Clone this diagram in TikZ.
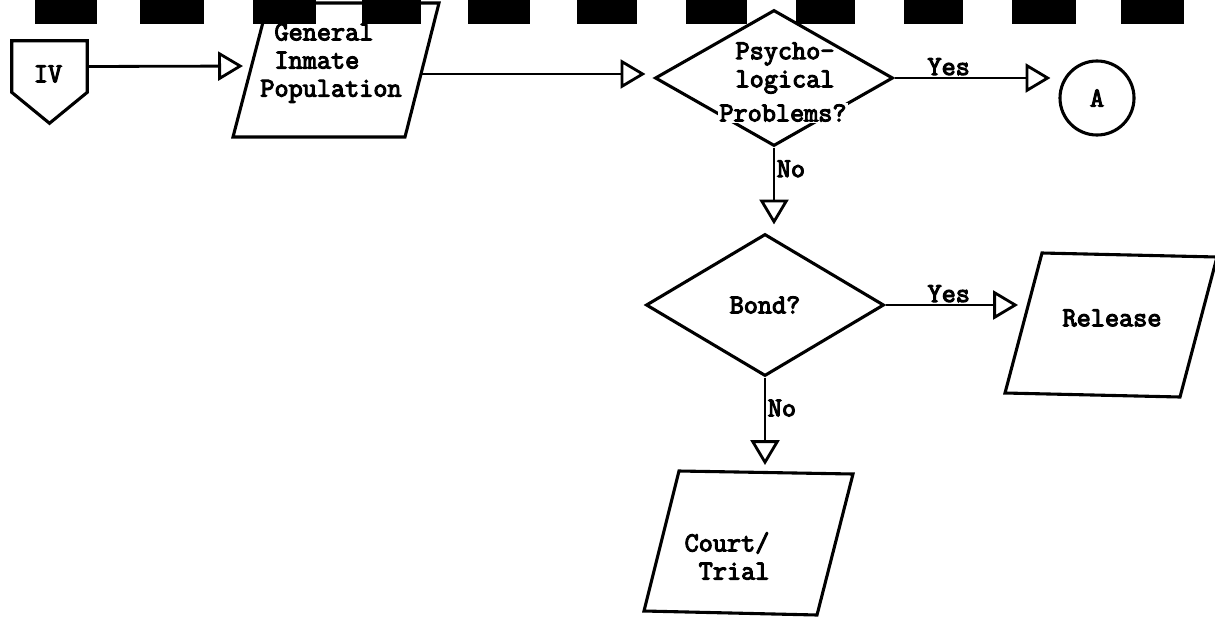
\documentclass[tikz,border=0pt]{standalone}
\usepackage{fontspec}
\usepackage{tikz}
\usetikzlibrary{arrows.meta,shapes.geometric,calc}
\newfontfamily\flowfont[FakeBold=4]{Latin Modern Mono}
\tikzset{
    box/.style={line width=2.2pt},
    decision/.style={draw, diamond, line width=2.2pt, inner sep=0pt, minimum width=5.95cm, minimum height=3.4cm},
    connector/.style={draw, circle, line width=2.2pt, inner sep=0pt, minimum size=1.85cm},
    flow/.style={line width=2pt, -{Triangle[open, length=0.62cm, width=0.72cm]}, shorten >=0.2cm},
    txt/.style={font=\flowfont\fontsize{19.5}{20}\selectfont, inner sep=1pt},
}

\begin{document}
\begin{tikzpicture}[x=0.025cm, y=-0.025cm]
    \useasboundingbox (0,0) rectangle (1215,619);
    \foreach \a/\b in {35/97,140/204,253/316,362/421,468/530,577/637,686/747,796/855,904/963,1012/1076,1121/1184}
        \fill (\a,0) rectangle (\b,24);

    \node[minimum width=1.875cm, minimum height=1.275cm, inner sep=0pt] (iv) at (49.5,66.5) {};
    \draw[box] (iv.south west) -- (iv.north west) -- (iv.north east) -- (iv.south east) -- ($(iv.south)+(0,31)$) -- cycle;
    \node[txt] (ivtxt) at (48,74) {IV};

    \draw[box] (268,3) -- (439,3) -- (405,137) -- (233,137) -- cycle;
    \coordinate (genin) at (251,66);
    \coordinate (genout) at (421,74);
    \node[txt, align=left] (gen) at (331,63) {~General\\~Inmate\\Population};
    \draw[flow] (iv.east) -- (genin);

    \node[decision] (psych) at (774,78) {};
    \node[txt, align=center] (psychtxt) at (785,68) {Psycho-\\logical};
    \node[txt, fill=white] (probtxt) at (783,113) {Problems?};
    \draw[flow] (genout) -- (genout -| psych.west);

    \node[connector, txt] (conA) at (1097,98) {A};
    \draw[flow] (psych.east) -- node[txt, above, pos=0.33] (yes1) {Yes} (psych.east -| conA.west);

    \node[decision, minimum height=3.55cm] (bond) at (765,305) {};
    \node[txt] (bondtxt) at (bond) {Bond?};
    \draw[flow] (psych.south) -- node[txt, right, pos=0.25] (no1) {No} (psych.south |- bond.north);

    \draw[box] (1042,253) -- (1217,257) -- (1180,397) -- (1005,393) -- cycle;
    \coordinate (relin) at (1026,312);
    \node[txt] (rel) at (1112,318) {Release};
    \draw[flow] (bond.east) -- node[txt, above, pos=0.45] (yes2) {Yes} (bond.east -| relin);

    \draw[box] (679,471) -- (853,474) -- (817,615) -- (644,611) -- cycle;
    \coordinate (courtin) at (765,473);
    \node[txt, align=right] (court) at (727,556) {Court/\\Trial};
    \draw[flow] (bond.south) -- node[txt, right, pos=0.32] (no2) {No} (bond.south |- courtin);
\end{tikzpicture}
\end{document}
